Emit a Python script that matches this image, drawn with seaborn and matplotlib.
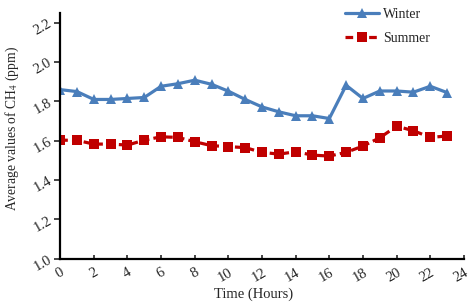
import pandas as pd
import seaborn as sns
import matplotlib
matplotlib.use("Agg")
import matplotlib.pyplot as plt

# Average CH4 per hour, winter vs summer
hours = list(range(24))
winter = [1.86, 1.85, 1.81, 1.81, 1.815, 1.82, 1.877, 1.89, 1.908, 1.887, 1.852, 1.81,
          1.772, 1.747, 1.727, 1.727, 1.713, 1.882, 1.815, 1.853, 1.853, 1.847, 1.877, 1.845]
summer = [1.603, 1.602, 1.583, 1.583, 1.578, 1.603, 1.62, 1.617, 1.595, 1.575, 1.57, 1.565,
          1.541, 1.532, 1.544, 1.527, 1.522, 1.541, 1.573, 1.615, 1.674, 1.651, 1.617, 1.624]
x_ticks = list(range(0, 25, 2))
y_ticks = [1.0, 1.2, 1.4, 1.6, 1.8, 2.0, 2.2]

df = pd.concat([
    pd.DataFrame({"hour": hours, "ch4": winter, "season": "Winter"}),
    pd.DataFrame({"hour": hours, "ch4": summer, "season": "Summer"}),
], ignore_index=True)

sns.set_style("ticks")
plt.rcParams["font.family"] = ["Liberation Serif", "DejaVu Serif"]
plt.rcParams["mathtext.fontset"] = "stix"

palette = {"Winter": "#4a7ebb", "Summer": "#c00000"}

fig, ax = plt.subplots(figsize=(4.7, 3.08), dpi=100)
sns.lineplot(
    data=df, x="hour", y="ch4", hue="season", style="season",
    palette=palette,
    markers={"Winter": "^", "Summer": "s"},
    dashes={"Winter": "", "Summer": (2.4, 1.3)},
    markersize=6.5, markeredgewidth=0, linewidth=2.3, ax=ax,
)

ax.set_xlim(0, 24)
ax.set_ylim(1.0, 2.25)
ax.set_xticks(x_ticks)
ax.set_yticks(y_ticks)
ax.set_yticklabels([f"{v:.1f}" for v in y_ticks])
ax.tick_params(axis="x", direction="in", labelsize=10.5, width=1.2, length=3, pad=5)
ax.tick_params(axis="y", direction="out", labelsize=10.5, width=1.2, length=4, pad=3)
for lab in ax.get_xticklabels():
    lab.set_rotation(30)
    lab.set_rotation_mode("anchor")
    lab.set_ha("right")
    lab.set_va("top")
for lab in ax.get_yticklabels():
    lab.set_rotation(30)
    lab.set_rotation_mode("anchor")
    lab.set_ha("right")
    lab.set_va("center")
sns.despine(ax=ax)
for s in ("left", "bottom"):
    ax.spines[s].set_linewidth(1.6)
    ax.spines[s].set_color("black")

ax.set_xlabel("Time (Hours)", fontsize=10.5)
ax.set_ylabel("Average values of CH$_4$ (ppm)", fontsize=9.8)
ax.xaxis.set_label_coords(0.478, -0.118)
ax.yaxis.set_label_coords(-0.098, 0.53)

leg = ax.legend(loc="upper left", bbox_to_anchor=(0.675, 1.07), frameon=False,
                fontsize=10, handlelength=2.4, handletextpad=0.3,
                labelspacing=0.8, title=None)

fig.subplots_adjust(left=0.128, right=0.987, top=0.958, bottom=0.16)
fig.savefig("out.png", dpi=100)
